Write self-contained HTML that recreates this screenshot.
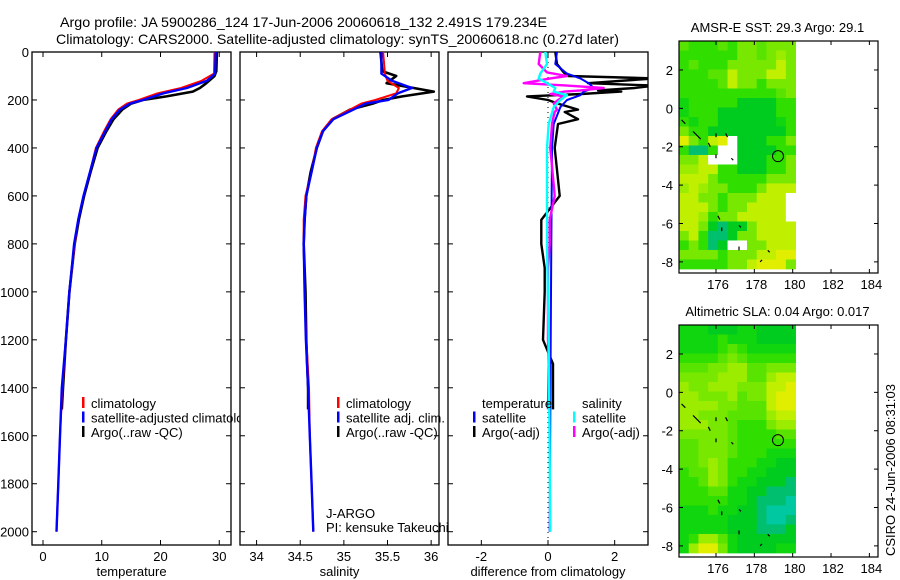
<!DOCTYPE html>
<html><head><meta charset="utf-8"><style>
html,body{margin:0;padding:0;background:#fff;}
svg{display:block;font-family:"Liberation Sans",sans-serif;}
</style></head><body>
<svg id="fig" width="900" height="580" viewBox="0 0 900 580" xmlns="http://www.w3.org/2000/svg">
<defs>
<clipPath id="c1"><rect x="32" y="52" width="199" height="493"/></clipPath>
<clipPath id="c2"><rect x="240" y="52" width="199" height="493"/></clipPath>
<clipPath id="c3"><rect x="448" y="52" width="200" height="493"/></clipPath>
<clipPath id="cleg1"><rect x="32" y="380" width="208" height="60"/></clipPath>
</defs>
<text x="60" y="27" font-size="14" textLength="487" lengthAdjust="spacingAndGlyphs">Argo profile: JA 5900286_124 17-Jun-2006 20060618_132 2.491S 179.234E</text>
<text x="56" y="44" font-size="14" textLength="563" lengthAdjust="spacingAndGlyphs">Climatology: CARS2000. Satellite-adjusted climatology: synTS_20060618.nc (0.27d later)</text>
<g id="root"></g>
</svg>
<script>
// ---------- Profile data (depth in m) ----------
const tDepth = [0,90,120,150,172,200,215,240,280,330,400,500,600,700,800,1000,1200,1400,1600,1800,2000];
const tSat   = [29.4,29.3,27.9,24.5,20.5,17,14.8,13.1,11.7,10.6,9.1,8.0,6.9,6.0,5.3,4.5,3.9,3.2,2.9,2.6,2.3];
const tClim  = [29.2,29.1,27.0,23.5,19.5,16.3,14.3,12.8,11.5,10.4,9.0,8.0,6.9,6.0,5.4,4.5,3.9,3.3,2.9,2.6,2.3];
const aDepth = [0,80,100,130,150,165,185,200,215,240,280,330,400,500,600,700,800,1000,1200,1400,1490];
const tArgo  = [29.6,29.5,29.2,27.8,26.7,25.5,21,17,15,13.5,12,10.8,9.3,8.1,7.0,6.1,5.4,4.5,3.9,3.4,3.2];
const sSat   = [35.43,35.43,35.55,35.78,35.62,35.51,35.25,35.11,34.88,34.76,34.69,34.63,34.57,34.55,34.54,34.55,34.565,34.59,34.61,34.63,34.65];
const sClim  = [35.45,35.47,35.5,35.63,35.6,35.36,35.2,35.07,34.86,34.75,34.68,34.63,34.56,34.54,34.54,34.55,34.57,34.60,34.61,34.63,34.65];
const sArgo  = [35.42,35.44,35.6,35.49,35.8,36.03,35.67,35.45,35.33,35.07,34.87,34.76,34.69,34.62,34.57,34.55,34.54,34.56,34.57,34.59,34.59];
// differences from climatology
const dDepth = [0,50,85,100,110,130,140,150,160,165,175,185,200,215,240,250,280,300,400,600,700,800,900,1000,1200,1300,1490];
const dTArgo = [0.22,0.27,0.47,0.6,3.2,1.2,3.2,2.6,1.5,2.2,1.0,-0.63,0.0,0.3,0.9,0.5,0.9,0.3,0.2,0.35,-0.2,-0.2,-0.1,-0.1,-0.15,0.15,0.15];
const dSArgo = [-0.23,-0.28,-0.03,0.57,0.07,-0.73,0.57,1.67,0.97,0.5,0.07,0.47,0.3,0.17,0.27,0.2,0.15,0.12,0.07,0.2,0.05,0.05,0.0,0.0,0.0,0.02,0.0];
const sDepth = [0,50,90,110,130,150,165,180,200,230,300,400,800,1200,2000];
const dTSat  = [0.27,0.22,0.57,0.97,1.22,1.37,1.07,0.97,0.57,0.37,0.17,0.12,0.1,0.08,0.05];
const dSSat  = [-0.08,-0.03,-0.23,-0.28,-0.03,0.22,0.17,0.57,0.37,0.17,0.02,-0.03,-0.03,0.02,0.07];
const yTicks = [0,200,400,600,800,1000,1200,1400,1600,1800,2000];
const tTicks = [0,10,20,30];
const sTicks = [34,34.5,35,35.5,36];
const dTicks = [-2,0,2];

// ---------- Map data ----------
const sstRows = [
"544454665666","444444665676","454446666686","444558666886","444458664666","444444444456",
"344444222244","344422222244","434422222234","644222222224","96489w222446","4114ww222244",
"668www222446","778844222446","888644444666","787664446888","88664666888w","88864668888w",
"88746688888w","886212268888","684112668888","46412ww66888","666646668899","444446689996"];
const slaRows = [
"333222332222","333343332222","333345433333","444456544444","555667755666","666677755788",
"766777666889","776667566899","777766555899","776665555788","777665444677","666665444455",
"556665444444","556665444333","556764443322","455764433222","445764332221","444553322111",
"444443321110","333433221000","333332221001","333332221112","347753222222","379963222233"];
const coastLon = [174.2,174.4, 174.8,175.2, 176.0,176.0, 176.5,176.6, 175.6,175.7, 176.0,176.0, 176.8,176.9, 176.1,176.2, 176.3,176.3, 177.2,177.3, 177.2,177.2, 178.7,178.8, 178.4,178.3];
const coastLat = [-0.6,-0.8, -1.2,-1.6, -1.3,-1.5, -1.3,-1.5, -1.8,-2.0, -2.4,-2.6, -2.6,-2.7, -5.6,-5.8, -6.2,-6.4, -6.1,-6.2, -7.2,-7.4, -7.4,-7.5, -7.9,-8.0];
const floatLon = 179.234, floatLat = -2.491;
const mapXTicks = [176,178,180,182,184];
const mapYTicks = [2,0,-2,-4,-6,-8];

const NS="http://www.w3.org/2000/svg";
const root=document.getElementById('root');
function mk(tag,attrs,parent){const e=document.createElementNS(NS,tag);for(const k in attrs)e.setAttribute(k,attrs[k]);(parent||root).appendChild(e);return e;}

const Y0=52, YS=(531.7-52)/2000;
const yOf=d=>Y0+d*YS;

function panel(name,x0,x1,xmin,xmax,xt,xlabel,showY,clip){
  const sx=v=>x0+(v-xmin)/(xmax-xmin)*(x1-x0);
  const g=mk('g',{});
  
  
  const r=mk('rect',{x:x0,y:52,width:x1-x0,height:493,fill:'#fff',stroke:'#000','stroke-width':1.3},g);
  
  
  xt.forEach(v=>{
    const x=sx(v);
    mk('line',{x1:x,x2:x,y1:545,y2:540,stroke:'#000'},g);
    mk('line',{x1:x,x2:x,y1:52,y2:57,stroke:'#000'},g);
    const t=mk('text',{x:x,y:561,'font-size':13,'text-anchor':'middle'},g);
    t.textContent=String(v);
    
    
  });
  yTicks.forEach(d=>{
    const y=yOf(d);
    mk('line',{x1:x0,x2:x0+5,y1:y,y2:y,stroke:'#000'},g);
    mk('line',{x1:x1,x2:x1-5,y1:y,y2:y,stroke:'#000'},g);
    if(showY){const t=mk('text',{x:29,y:y+5,'font-size':13,'text-anchor':'end'},g);t.textContent=String(d);
      
      }
  });
  const xl=mk('text',{x:(x0+x1)/2,y:576,'font-size':13,'text-anchor':'middle'},g);
  xl.textContent=xlabel;
  
  
  return sx;
}
function line(sx,vals,depths,color,w,clip,name){
  const pts=vals.map((v,i)=>sx(v).toFixed(1)+','+yOf(depths[i]).toFixed(1)).join(' ');
  const p=mk('polyline',{points:pts,fill:'none',stroke:color,'stroke-width':w,'clip-path':'url(#'+clip+')','stroke-linejoin':'round'});
  
  
}
function legend(entries,x,y0,clip){
  entries.forEach((e,i)=>{
    const y=y0+i*14.5;
    if(e[1]){mk('rect',{x:x,y:y-12,width:2.5,height:11,fill:e[1]});}
    const t=mk('text',{x:x+9,y:y-1,'font-size':13},root);
    if(clip)t.setAttribute('clip-path','url(#'+clip+')');
    t.textContent=e[0];
    
    
  });
}

const sx1=panel('temperature-panel',32,231,-1.87,32.0,tTicks,'temperature',true);
line(sx1,tArgo,aDepth,'#000',2.6,'c1','temp-argo-line');
line(sx1,tClim,tDepth,'#f00',2,'c1','temp-climatology-line');
line(sx1,tSat,tDepth,'#00f',2.4,'c1','temp-satellite-line');
legend([['climatology','#f00'],['satellite-adjusted climatology','#00f'],['Argo(..raw -QC)','#000']],82,409,'cleg1');

const sx2=panel('salinity-panel',240,439,33.81,36.09,sTicks,'salinity',false);
line(sx2,sArgo,aDepth,'#000',2.6,'c2','sal-argo-line');
line(sx2,sClim,tDepth,'#f00',2,'c2','sal-climatology-line');
line(sx2,sSat,tDepth,'#00f',2.4,'c2','sal-satellite-line');
legend([['climatology','#f00'],['satellite adj. clim.','#00f'],['Argo(..raw -QC)','#000']],337,409);
const j1=mk('text',{x:326,y:518,'font-size':13});j1.textContent='J-ARGO';


const j2=mk('text',{x:326,y:532,'font-size':13});j2.textContent='PI: kensuke Takeuchi';



const sx3=panel('difference-panel',448,648,-3,3,dTicks,'difference from climatology',false);
mk('line',{x1:sx3(0),x2:sx3(0),y1:52,y2:545,stroke:'#000','stroke-dasharray':'1,4'});
line(sx3,dTArgo,dDepth,'#000',2.4,'c3','diff-temp-argo-line');
line(sx3,dTSat,sDepth,'#00f',2,'c3','diff-temp-satellite-line');
line(sx3,dSArgo,dDepth,'#f0f',2.4,'c3','diff-sal-argo-line');
line(sx3,dSSat,sDepth,'#0ff',2.4,'c3','diff-sal-satellite-line');
legend([['temperature',null],['satellite','#00f'],['Argo(-adj)','#000']],473,409);
legend([['salinity',null],['satellite','#0ff'],['Argo(-adj)','#f0f']],573,409);

// ---------- maps ----------
const pal={'0':'#00c8a0','1':'#00c070','2':'#00cc20','3':'#10d610','4':'#30de00','5':'#58e400','6':'#78e800','7':'#9cec00','8':'#c0f000','9':'#e2ee00','w':'#ffffff'};
function map(name,title,rows,top,bot,titleY){
  const L=679,R=878,lonMin=174.07,lonMax=184.45,latMax=3.51,latMin=-8.58;
  const sx=v=>L+(v-lonMin)/(lonMax-lonMin)*(R-L);
  const sy=v=>top+(latMax-v)/(latMax-latMin)*(bot-top);
  const g=mk('g',{});
  
  
  const dLonMax=180.15,dLatMin=-8.37;
  const nr=rows.length,nc=rows[0].length;
  const cw=(dLonMax-lonMin)/nc, ch=(latMax-dLatMin)/nr;
  rows.forEach((row,i)=>{for(let j=0;j<nc;j++){
    const x=sx(lonMin+j*cw),y=sy(latMax-i*ch);
    const c=mk('rect',{x:x.toFixed(2),y:y.toFixed(2),width:(sx(lonMin+(j+1)*cw)-x+0.4).toFixed(2),height:(sy(latMax-(i+1)*ch)-y+0.4).toFixed(2),fill:pal[row[j]]},g);
    
    
  }});
  for(let k=0;k<coastLon.length;k+=2){
    mk('line',{x1:sx(coastLon[k]),y1:sy(coastLat[k]),x2:sx(coastLon[k+1]),y2:sy(coastLat[k+1]),stroke:'#000','stroke-width':1.2},g);
  }
  const c=mk('circle',{cx:sx(floatLon),cy:sy(floatLat),r:5.5,fill:'none',stroke:'#000','stroke-width':1},g);
  
  
  mk('rect',{x:L,y:top,width:R-L,height:bot-top,fill:'none',stroke:'#000','stroke-width':1.2},g);
  mapXTicks.forEach(v=>{const x=sx(v);
    mk('line',{x1:x,x2:x,y1:bot,y2:bot-4,stroke:'#000'},g);
    mk('line',{x1:x,x2:x,y1:top,y2:top+4,stroke:'#000'},g);
    const t=mk('text',{x:x+2,y:bot+16,'font-size':13,'text-anchor':'middle'},g);t.textContent=String(v);
    
    });
  mapYTicks.forEach(v=>{const y=sy(v);
    mk('line',{x1:L,x2:L+4,y1:y,y2:y,stroke:'#000'},g);
    mk('line',{x1:R,x2:R-4,y1:y,y2:y,stroke:'#000'},g);
    const t=mk('text',{x:673,y:y+5,'font-size':13,'text-anchor':'end'},g);t.textContent=String(v);
    
    });
  const tt=mk('text',{x:(L+R)/2-1,y:titleY,'font-size':13,'text-anchor':'middle'},g);tt.textContent=title;
  
  
}
map('sst-map','AMSR-E SST: 29.3 Argo: 29.1',sstRows,41,273,32);
map('sla-map','Altimetric SLA: 0.04 Argo: 0.017',slaRows,325,557,316);
const cs=mk('text',{x:0,y:0,'font-size':13,'text-anchor':'middle',transform:'translate(895,470) rotate(-90)'});
cs.textContent='CSIRO 24-Jun-2006 08:31:03';


</script>
</body></html>
